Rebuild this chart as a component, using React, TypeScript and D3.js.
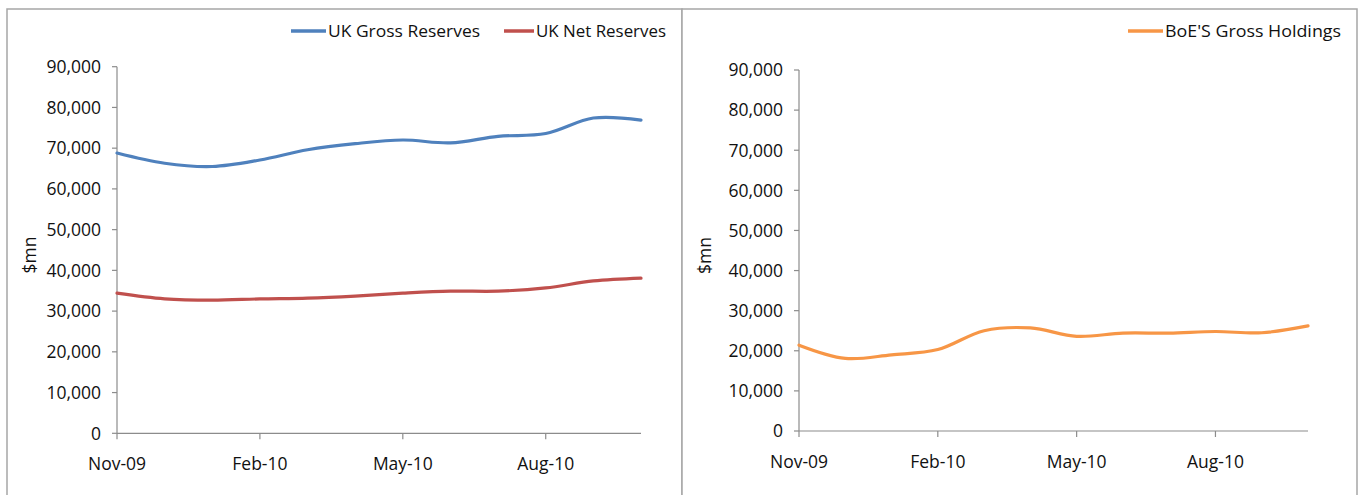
import React from "react";
import * as d3 from "d3";

const months = ["Nov-09","Dec-09","Jan-10","Feb-10","Mar-10","Apr-10","May-10","Jun-10","Jul-10","Aug-10","Sep-10","Oct-10"];
const tickMonths = ["Nov-09","Feb-10","May-10","Aug-10"];
const yTicks = [0,10000,20000,30000,40000,50000,60000,70000,80000,90000];
const ukGross = [68800,66300,65500,67100,69600,71100,72000,71300,72900,73600,77400,76900];
const ukNet = [34400,33000,32700,33000,33200,33700,34400,34900,34900,35700,37400,38100];
const boeGross = [21400,18100,19000,20300,25000,25700,23600,24400,24400,24800,24500,26200];

const FONT = "'Open Sans', sans-serif";
const AXIS = "#8c8c8c";
const fmt = d3.format(",");

type Series = { name: string; values: number[]; color: string };

function Panel({ x0, x1, yBottom, yTop, series, legend, titleX }: {
  x0: number; x1: number; yBottom: number; yTop: number;
  series: Series[];
  legend: { lineX: number; textX: number; textW: number }[];
  titleX: number;
}) {
  const x = d3.scaleLinear().domain([0, months.length - 1]).range([x0, x1]);
  const y = d3.scaleLinear().domain([0, 90000]).range([yBottom, yTop]);
  const line = d3.line<number>().x((_, i) => x(i)).y((d) => y(d)).curve(d3.curveCatmullRom.alpha(0.5));
  return (
    <g>
      {/* y axis */}
      <line x1={x0} x2={x0} y1={y(90000)} y2={y(0)} stroke={AXIS} strokeWidth={1.2} />
      {yTicks.map((t) => (
        <g key={t}>
          <line x1={x0 - 5} x2={x0} y1={y(t)} y2={y(t)} stroke={AXIS} strokeWidth={1.2} />
          <text x={x0 - 16} y={y(t)} dy="0.36em" textAnchor="end" fontFamily={FONT} fontSize={17.5} fill="#111">{fmt(t)}</text>
        </g>
      ))}
      {/* x axis */}
      <line x1={x0} x2={x1} y1={y(0)} y2={y(0)} stroke={AXIS} strokeWidth={1.2} />
      {tickMonths.map((m) => {
        const i = months.indexOf(m);
        return (
          <g key={m}>
            <line x1={x(i)} x2={x(i)} y1={y(0)} y2={y(0) + 6} stroke={AXIS} strokeWidth={1.2} />
            <text x={x(i)} y={y(0) + 37} textAnchor="middle" fontFamily={FONT} fontSize={17.5} fill="#111">{m}</text>
          </g>
        );
      })}
      <text transform={`translate(${titleX},${(y(0) + y(90000)) / 2 + 5}) rotate(-90)`} textAnchor="middle" fontFamily={FONT} fontSize={17.5} fill="#111">$mn</text>
      {series.map((s) => (
        <path key={s.name} d={line(s.values) || ""} fill="none" stroke={s.color} strokeWidth={3.2} strokeLinejoin="round" strokeLinecap="round" />
      ))}
      {series.map((s, k) => (
        <g key={"lg" + s.name}>
          <line x1={legend[k].lineX} x2={legend[k].textX - 2} y1={31} y2={31} stroke={s.color} strokeWidth={3.5} />
          <text x={legend[k].textX} y={36.7} fontFamily={FONT} fontSize={17} fill="#111" textLength={legend[k].textW} lengthAdjust="spacingAndGlyphs">{s.name}</text>
        </g>
      ))}
    </g>
  );
}

export default function App() {
  return (
    <div style={{ position: "absolute", left: 0, top: 0 }}>
      <svg width={1360} height={495} style={{ display: "block", background: "#fff" }}>
        <rect x={7} y={9} width={675} height={500} fill="#fff" stroke="#a6a6a6" strokeWidth={1.5} />
        <rect x={682} y={9} width={675} height={500} fill="#fff" stroke="#a6a6a6" strokeWidth={1.5} />
        <Panel
          x0={117} x1={641} yBottom={433.3} yTop={66.7}
          series={[
            { name: "UK Gross Reserves", values: ukGross, color: "#4F81BD" },
            { name: "UK Net Reserves", values: ukNet, color: "#C0504D" },
          ]}
          legend={[{ lineX: 291, textX: 328, textW: 152 }, { lineX: 504, textX: 536, textW: 130 }]}
          titleX={36}
        />
        <Panel
          x0={799} x1={1308} yBottom={431} yTop={70}
          series={[{ name: "BoE'S Gross Holdings", values: boeGross, color: "#F79646" }]}
          legend={[{ lineX: 1128, textX: 1165, textW: 176 }]}
          titleX={711}
        />
      </svg>
    </div>
  );
}
